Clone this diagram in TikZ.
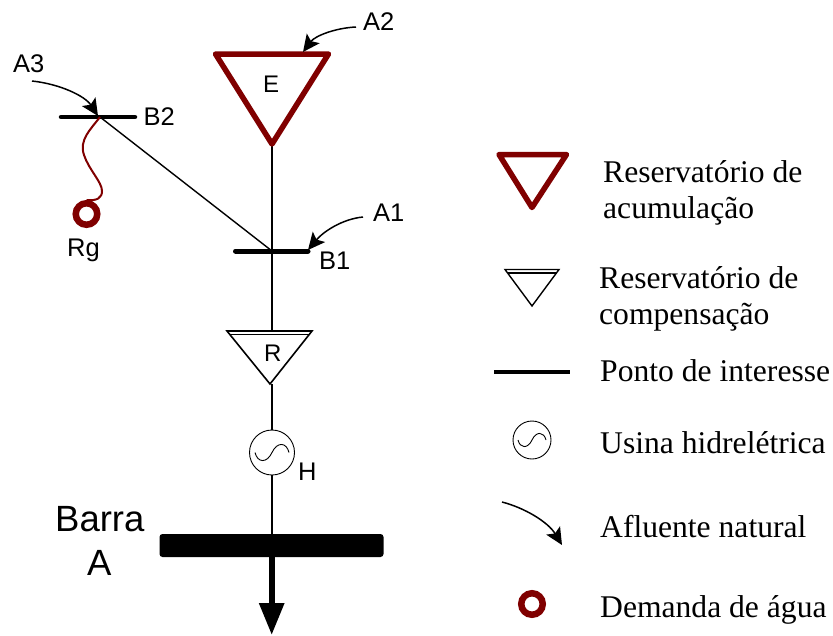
\documentclass[tikz,border=0pt]{standalone}
\usepackage{fontspec}
\setmainfont{Liberation Sans}
\newfontfamily\legendfont{Liberation Serif}
\usetikzlibrary{arrows.meta}
\definecolor{dred}{RGB}{128,0,0}
\tikzset{
  lab/.style={anchor=base west,inner sep=0pt,font=\fontsize{25.5}{25.5}\selectfont},
  bigl/.style={anchor=base west,inner sep=0pt,font=\fontsize{36.5}{36.5}\selectfont},
  legtext/.style={anchor=base west,inner sep=0pt,font=\legendfont\fontsize{31.6}{31.6}\selectfont},
  wire/.style={line width=1.5pt,draw=black},
  bar/.style={line width=5pt,line cap=round,draw=black},
  ebig/.style={line width=5.5pt,draw=dred,line join=round,line cap=round},
  rtri/.style={line width=1.6pt,draw=black,line join=miter},
  ring/.style={circle,draw=dred,line width=6.5pt,minimum size=21.5pt,inner sep=0pt},
  gen/.style={circle,draw=black,line width=0.9pt,inner sep=0pt,fill=white},
  flow/.style={line width=1.5pt,-{Stealth[length=17pt,width=16pt,inset=3.5pt]}},
  sinewave/.pic={\draw[line width=0.9pt] (-1,0) .. controls (-0.85,0.95) and (-0.3,1.0) .. (0,0) .. controls (0.3,-1.0) and (0.85,-0.95) .. (1,0);}
}
\begin{document}
\begin{tikzpicture}[x=1pt,y=-1pt]
\useasboundingbox (0,0) rectangle (833,635);
% reservoir E
\coordinate (eL) at (215.5,54);
\coordinate (eR) at (328.5,54);
\coordinate (eA) at (272,144);
% bus bars
\coordinate (b1L) at (235.5,251);
\coordinate (b1R) at (308,251);
\coordinate (b1C) at (272,251);
\coordinate (b2L) at (61,117);
\coordinate (b2R) at (135,117);
\coordinate (b2C) at (100,117);
% reservoir R
\coordinate (rL) at (227,331);
\coordinate (rR) at (312,331);
\coordinate (rA) at (270,384);
\coordinate (rT) at (272,331);
\coordinate (rB) at (272,384);
% generator
\node[gen,minimum size=45pt] (hgen) at (272,452.5) {};
\pic[xscale=17,yscale=11] at (hgen) {sinewave};
% main bar
\node[fill=black,rounded corners=3pt,minimum width=224pt,minimum height=23pt,inner sep=0pt] (barra) at (271.5,545.5) {};
\coordinate (arrowEnd) at (271.7,635);
% wires
\draw[wire] (eA) -- (b1C);
\draw[wire] (b1C) -- (rT);
\draw[wire] (rB) -- (hgen.north);
\draw[wire] (hgen.south) -- (barra.north -| hgen.south);
\draw[wire,line width=1.4pt] (b2C) -- (b1C);
% bars
\draw[bar] (b1L) -- (b1R);
\draw[bar,line width=4.5pt] (b2L) -- (b2R);
% triangles
\draw[ebig,fill=white] (eL) -- (eR) -- (eA) -- cycle;
\draw[rtri,fill=white] (rL) -- (rR) -- (rA) -- cycle;
\draw[rtri] (229.5,334.5) -- (309.5,334.5);
% outflow arrow
\draw[line width=6pt,-{Triangle[length=32pt,width=24pt]}] (barra.south -| arrowEnd) -- (arrowEnd);
% ring Rg
\node[ring] (rg) at (86.5,214) {};
\draw[dred,line width=2pt] (b2C) .. controls (90,130) and (79,140) .. (84,155) .. controls (89,170) and (102,182) .. (102,191) .. controls (102,198) and (97,201) .. (rg.north);
% inflows
\coordinate (a2s) at (356,27);
\coordinate (a2t) at (303,52);
\coordinate (a1s) at (363,217);
\coordinate (a1t) at (308,250);
\coordinate (a3s) at (32,81);
\coordinate (a3t) at (98,116);
\draw[flow] (a2s) .. controls (335,28) and (315,36) .. (a2t);
\draw[flow] (a1s) .. controls (342,219) and (323,232) .. (a1t);
\draw[flow] (a3s) .. controls (60,84) and (85,96) .. (a3t);
% labels
\node[lab] (tA2) at (363,30) {A2};
\node[lab] (tA3) at (13,72) {A3};
\node[lab] (tB2) at (143.5,125) {B2};
\node[lab,font=\fontsize{24}{24}\selectfont] (tE) at (263,92) {E};
\node[lab] (tA1) at (373,221) {A1};
\node[lab] (tB1) at (319,269) {B1};
\node[lab] (tRg) at (67,256) {Rg};
\node[lab,font=\fontsize{24}{24}\selectfont] (tR) at (264,361) {R};
\node[lab] (tH) at (298,480) {H};
\node[bigl] (tBarra) at (55,531) {Barra};
\node[bigl] (tBA) at (87,575) {A};
% legend symbols
\coordinate (l1L) at (499,154.5);
\coordinate (l1R) at (566.5,154.5);
\coordinate (l1A) at (532,207.5);
\draw[ebig] (l1L) -- (l1R) -- (l1A) -- cycle;
\coordinate (l2L) at (505,269.5);
\coordinate (l2R) at (559,269.5);
\coordinate (l2A) at (532,306);
\draw[rtri,line width=1.4pt] (l2L) -- (l2R) -- (l2A) -- cycle;
\draw[line width=1.4pt] (507.5,273) -- (556.5,273);
\coordinate (l3L) at (494,372);
\coordinate (l3R) at (570,372);
\draw[line width=4pt] (l3L) -- (l3R);
\node[gen,minimum size=38pt] (l4) at (532,440) {};
\pic[xscale=14,yscale=9] at (l4) {sinewave};
\coordinate (l5s) at (502,502);
\coordinate (l5t) at (562,545);
\draw[flow] (l5s) .. controls (525,508) and (548,522) .. (l5t);
\node[ring] (l6) at (532,604) {};
% legend text
\node[legtext] (t1) at (603,182) {Reservatório de};
\node[legtext] (t1b) at (603,218) {acumulação};
\node[legtext] (t2) at (599,288) {Reservatório de};
\node[legtext] (t2b) at (599,324) {compensação};
\node[legtext] (t3) at (600,381) {Ponto de interesse};
\node[legtext] (t4) at (600,453) {Usina hidrelétrica};
\node[legtext] (t5) at (600,537) {Afluente natural};
\node[legtext] (t6) at (600,617) {Demanda de água};
\end{tikzpicture}
\end{document}
